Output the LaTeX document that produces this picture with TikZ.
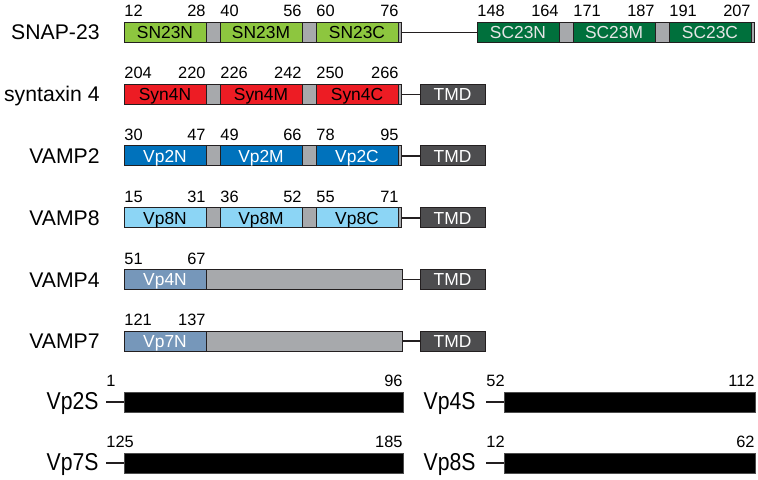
\documentclass[tikz,border=0pt]{standalone}
\usepackage{fontspec}
\setmainfont{Liberation Sans}
\usepackage{graphicx}
\usetikzlibrary{positioning}
\definecolor{SnapLight}{RGB}{141,198,63}
\definecolor{SnapDark}{RGB}{0,112,60}
\definecolor{SynRed}{RGB}{237,28,36}
\definecolor{VampBlue}{RGB}{0,114,188}
\definecolor{VampSky}{RGB}{140,213,245}
\definecolor{VampSteel}{RGB}{118,151,186}
\definecolor{LinkerGray}{RGB}{167,169,172}
\definecolor{TmdGray}{RGB}{77,77,79}
\definecolor{EdgeColor}{RGB}{35,31,32}
\newcommand{\tall}[1]{\scalebox{1}[1.15]{#1}}
\tikzset{
  segbox/.style={rectangle, draw=EdgeColor, line width=0.5pt, anchor=west, inner sep=0pt, outer sep=0pt,
    minimum height=10pt, text height=6.2pt, text depth=0pt, font=\fontsize{8.7}{10}\selectfont},
  sn23/.style={segbox, fill=SnapLight, text=black, minimum width=41pt},
  sc23/.style={segbox, fill=SnapDark, text=white!90!black, minimum width=41pt},
  syn4/.style={segbox, fill=SynRed, text=black, minimum width=41pt},
  vp2/.style={segbox, fill=VampBlue, text=white, minimum width=41pt},
  vp8/.style={segbox, fill=VampSky, text=black, minimum width=41pt},
  vpN/.style={segbox, fill=VampSteel, text=white, minimum width=41pt},
  gapbox/.style={segbox, fill=LinkerGray, minimum width=7pt},
  tailbox/.style={segbox, fill=LinkerGray, minimum width=1.5pt},
  longgap/.style={segbox, fill=LinkerGray, minimum width=98pt},
  tmd/.style={segbox, fill=TmdGray, text=white, minimum width=32.5pt},
  motif/.style={segbox, fill=black, draw=black!70, minimum width=139.5pt},
  motifR/.style={motif, minimum width=125.5pt},
  protein/.style={anchor=base east, inner sep=0pt, font=\fontsize{10.6}{12}\selectfont},
  numL/.style={anchor=base west, inner sep=0pt, font=\fontsize{8.2}{9}\selectfont},
  numR/.style={anchor=base east, inner sep=0pt, font=\fontsize{8.2}{9}\selectfont},
  tether/.style={draw=EdgeColor, line width=0.7pt}
}

\begin{document}
\begin{tikzpicture}[x=0.5pt, y=-0.5pt]
  \useasboundingbox (0,0) rectangle (758,480);

  % SNAP-23
  \node[protein] (snap) at (100,40) {SNAP-23};
  \node[sn23] (sn23n) at (124,32.5) {SN23N};
  \node[gapbox] (snapA) at (206,32.5) {};
  \node[sn23] (sn23m) at (220,32.5) {SN23M};
  \node[gapbox] (snapB) at (302,32.5) {};
  \node[sn23] (sn23c) at (316,32.5) {SN23C};
  \node[tailbox] (snapC) at (398,32.5) {};
  \node[sc23] (sc23n) at (477,32.5) {SC23N};
  \node[gapbox] (snapD) at (559,32.5) {};
  \node[sc23] (sc23m) at (573,32.5) {SC23M};
  \node[gapbox] (snapE) at (655,32.5) {};
  \node[sc23] (sc23c) at (669,32.5) {SC23C};
  \node[tailbox] (snapF) at (751,32.5) {};
  \draw[tether] (snapC.east) -- (sc23n.west);
  \node[numL] (s12) at (124,17) {12};
  \node[numR] (s28) at (206,17) {28};
  \node[numL] (s40) at (220,17) {40};
  \node[numR] (s56) at (302,17) {56};
  \node[numL] (s60) at (316,17) {60};
  \node[numR] (s76) at (399,17) {76};
  \node[numL] (s148) at (477,17) {148};
  \node[numR] (s164) at (559,17) {164};
  \node[numL] (s171) at (573,17) {171};
  \node[numR] (s187) at (655,17) {187};
  \node[numL] (s191) at (669,17) {191};
  \node[numR] (s207) at (751,17) {207};

  % syntaxin 4
  \node[protein] (stx) at (100,102) {syntaxin 4};
  \node[syn4] (syn4n) at (124,94.5) {Syn4N};
  \node[gapbox] (stxA) at (206,94.5) {};
  \node[syn4] (syn4m) at (220,94.5) {Syn4M};
  \node[gapbox] (stxB) at (302,94.5) {};
  \node[syn4] (syn4c) at (316,94.5) {Syn4C};
  \node[tailbox] (stxC) at (398,94.5) {};
  \node[tmd] (stxTmd) at (420,94.5) {TMD};
  \draw[tether] (stxC.east) -- (stxTmd.west);
  \node[numL] (x204) at (124,79) {204};
  \node[numR] (x220) at (206,79) {220};
  \node[numL] (x226) at (220,79) {226};
  \node[numR] (x242) at (302,79) {242};
  \node[numL] (x250) at (316,79) {250};
  \node[numR] (x266) at (399,79) {266};

  % VAMP2
  \node[protein] (vamp2) at (100,163.5) {VAMP2};
  \node[vp2] (vp2n) at (124,156) {Vp2N};
  \node[gapbox] (v2A) at (206,156) {};
  \node[vp2] (vp2m) at (220,156) {Vp2M};
  \node[gapbox] (v2B) at (302,156) {};
  \node[vp2] (vp2c) at (316,156) {Vp2C};
  \node[tailbox] (v2C) at (398,156) {};
  \node[tmd] (v2Tmd) at (420,156) {TMD};
  \draw[tether] (v2C.east) -- (v2Tmd.west);
  \node[numL] (a30) at (124,140.5) {30};
  \node[numR] (a47) at (206,140.5) {47};
  \node[numL] (a49) at (220,140.5) {49};
  \node[numR] (a66) at (302,140.5) {66};
  \node[numL] (a78) at (316,140.5) {78};
  \node[numR] (a95) at (399,140.5) {95};

  % VAMP8
  \node[protein] (vamp8) at (100,225.5) {VAMP8};
  \node[vp8] (vp8n) at (124,218) {Vp8N};
  \node[gapbox] (v8A) at (206,218) {};
  \node[vp8] (vp8m) at (220,218) {Vp8M};
  \node[gapbox] (v8B) at (302,218) {};
  \node[vp8] (vp8c) at (316,218) {Vp8C};
  \node[tailbox] (v8C) at (398,218) {};
  \node[tmd] (v8Tmd) at (420,218) {TMD};
  \draw[tether] (v8C.east) -- (v8Tmd.west);
  \node[numL] (b15) at (124,202.5) {15};
  \node[numR] (b31) at (206,202.5) {31};
  \node[numL] (b36) at (220,202.5) {36};
  \node[numR] (b52) at (302,202.5) {52};
  \node[numL] (b55) at (316,202.5) {55};
  \node[numR] (b71) at (399,202.5) {71};

  % VAMP4
  \node[protein] (vamp4) at (100,287) {VAMP4};
  \node[vpN] (vp4n) at (124,279.5) {Vp4N};
  \node[longgap] (v4A) at (206,279.5) {};
  \node[tmd] (v4Tmd) at (420,279.5) {TMD};
  \draw[tether] (v4A.east) -- (v4Tmd.west);
  \node[numL] (c51) at (124,264) {51};
  \node[numR] (c67) at (206,264) {67};

  % VAMP7
  \node[protein] (vamp7) at (100,348.5) {VAMP7};
  \node[vpN] (vp7n) at (124,341) {Vp7N};
  \node[longgap] (v7A) at (206,341) {};
  \node[tmd] (v7Tmd) at (420,341) {TMD};
  \draw[tether] (v7A.east) -- (v7Tmd.west);
  \node[numL] (d121) at (124,325.5) {121};
  \node[numR] (d137) at (206,325.5) {137};

  % SNARE motifs
  \node[protein] (vp2sLbl) at (99,409.5) {\tall{Vp2S}};
  \coordinate (vp2sStub) at (106,402);
  \node[motif] (vp2s) at (124,402) {};
  \draw[tether] (vp2sStub) -- (vp2s.west);
  \node[numL] (e1) at (106,386) {1};
  \node[numR] (e96) at (403,386) {96};

  \node[protein] (vp7sLbl) at (99,470.5) {\tall{Vp7S}};
  \coordinate (vp7sStub) at (106,463);
  \node[motif] (vp7s) at (124,463) {};
  \draw[tether] (vp7sStub) -- (vp7s.west);
  \node[numL] (e125) at (106,447) {125};
  \node[numR] (e185) at (403,447) {185};

  \node[protein] (vp4sLbl) at (476,409.5) {\tall{Vp4S}};
  \coordinate (vp4sStub) at (486,402);
  \node[motifR] (vp4s) at (504,402) {};
  \draw[tether] (vp4sStub) -- (vp4s.west);
  \node[numL] (f52) at (486,386) {52};
  \node[numR] (f112) at (755,386) {112};

  \node[protein] (vp8sLbl) at (476,470.5) {\tall{Vp8S}};
  \coordinate (vp8sStub) at (486,463);
  \node[motifR] (vp8s) at (504,463) {};
  \draw[tether] (vp8sStub) -- (vp8s.west);
  \node[numL] (f12) at (486,447) {12};
  \node[numR] (f62) at (755,447) {62};
\end{tikzpicture}
\end{document}
